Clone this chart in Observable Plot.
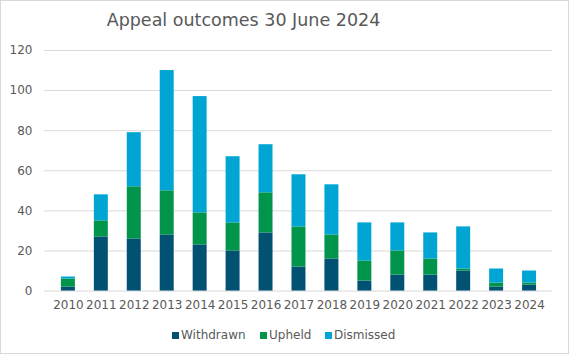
<!DOCTYPE html>
<html>
<head>
<meta charset="utf-8">
<script src="https://cdn.jsdelivr.net/npm/d3@7"></script>
<script src="https://cdn.jsdelivr.net/npm/@observablehq/plot@0.6"></script>
<style>
  html, body { margin: 0; padding: 0; background: #fff; }
  #chart { position: relative; width: 569px; height: 354px; box-sizing: border-box; border: 1px solid #d9d9d9; background: #fff; font-family: "DejaVu Sans", Verdana, sans-serif; color: #595959; overflow: hidden; }
  #title { position: absolute; left: 0; top: 8px; width: 485px; text-align: center; font-size: 17.5px; line-height: 22px; color: #595959; }
  #plot { position: absolute; left: -1px; top: 39px; }
  #legend { position: absolute; left: 0; top: 325px; width: 569px; height: 18px; font-size: 12px; color: #595959; }
  .item { position: absolute; top: 0; line-height: 18px; white-space: nowrap; }
  .sw { display: inline-block; width: 7px; height: 7px; margin-right: 2px; vertical-align: 0px; }
</style>
</head>
<body>
<div id="chart">
  <div id="title">Appeal outcomes 30 June 2024</div>
  <div id="plot"></div>
  <div id="legend"></div>
</div>
<script>
const years = ["2010","2011","2012","2013","2014","2015","2016","2017","2018","2019","2020","2021","2022","2023","2024"];
const withdrawn = [2, 27, 26, 28, 23, 20, 29, 12, 16, 5, 8, 8, 10, 2, 3];
const upheld    = [4, 8, 26, 22, 16, 14, 20, 20, 12, 10, 12, 8, 1, 2, 1];
const dismissed = [1, 13, 27, 60, 58, 33, 24, 26, 25, 19, 14, 13, 21, 7, 6];
const seriesNames = ["Withdrawn", "Upheld", "Dismissed"];
const seriesColors = ["#005172", "#00954A", "#00A5D4"];
const yTicks = [0, 20, 40, 60, 80, 100, 120];

const seriesValues = [withdrawn, upheld, dismissed];
const data = [];
years.forEach((y, i) => {
  seriesNames.forEach((s, k) => data.push({year: y, series: s, value: seriesValues[k][i]}));
});

const plot = Plot.plot({
  width: 569,
  height: 281,
  marginTop: 10,
  marginBottom: 30,
  marginLeft: 44,
  marginRight: 16,
  style: {fontFamily: "DejaVu Sans, Verdana, sans-serif", fontSize: "12px", color: "#595959", background: "transparent"},
  x: {domain: years, paddingInner: 0.59, paddingOuter: 0.295, label: null},
  y: {domain: [0, 120], ticks: yTicks, label: null},
  color: {domain: seriesNames, range: seriesColors},
  marks: [
    Plot.gridY(yTicks, {stroke: "#d9d9d9", strokeOpacity: 1, strokeWidth: 1}),
    Plot.barY(data, {x: "year", y: "value", fill: "series", order: seriesNames}),
    Plot.axisY(yTicks, {tickSize: 0, tickPadding: 12, fontSize: 12, fill: "#595959", label: null}),
    Plot.axisX({tickSize: 0, tickPadding: 9, fontSize: 12, fill: "#595959", label: null})
  ]
});
document.getElementById("plot").appendChild(plot);

const legend = document.getElementById("legend");
const positions = [171, 259, 324];
seriesNames.forEach((s, k) => {
  const d = document.createElement("div");
  d.className = "item";
  d.style.left = positions[k] + "px";
  d.innerHTML = `<span class="sw" style="background:${seriesColors[k]}"></span>${s}`;
  legend.appendChild(d);
});
</script>
</body>
</html>
